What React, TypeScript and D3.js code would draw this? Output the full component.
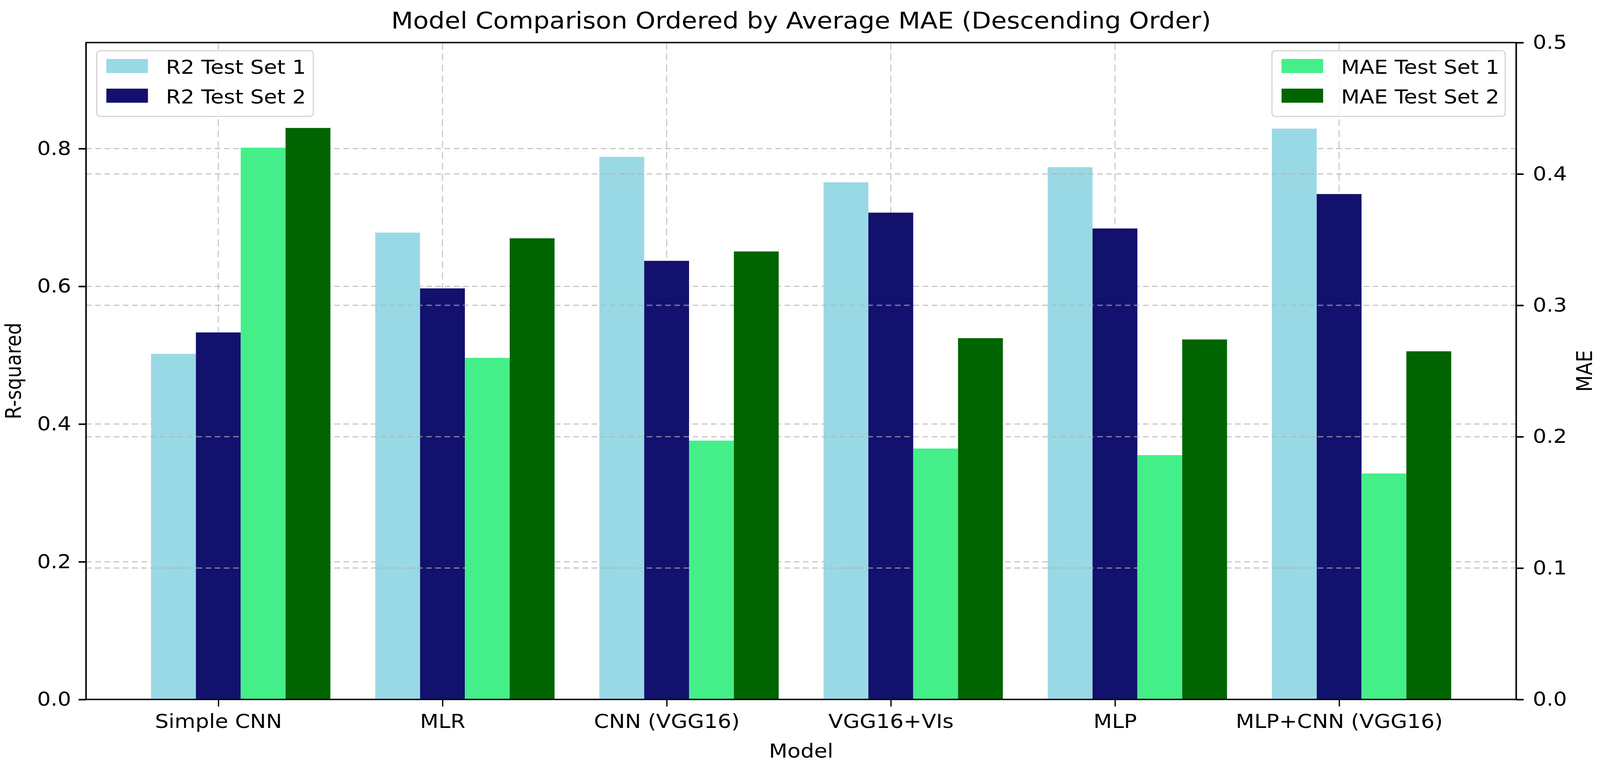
import React from 'react';
import * as d3 from 'd3';

const models = ['Simple CNN', 'MLR', 'CNN (VGG16)', 'VGG16+VIs', 'MLP', 'MLP+CNN (VGG16)'];
const r2Set1 = [0.502, 0.678, 0.788, 0.751, 0.773, 0.829];
const r2Set2 = [0.533, 0.597, 0.637, 0.707, 0.684, 0.734];
const maeSet1 = [0.42, 0.26, 0.197, 0.191, 0.186, 0.172];
const maeSet2 = [0.435, 0.351, 0.341, 0.275, 0.274, 0.265];
const r2Ticks = [0, 0.2, 0.4, 0.6, 0.8];
const maeTicks = [0, 0.1, 0.2, 0.3, 0.4, 0.5];

const r2Series = [
  { label: 'R2 Test Set 1', values: r2Set1, color: '#99d9e5', offset: -0.2 },
  { label: 'R2 Test Set 2', values: r2Set2, color: '#12116e', offset: 0 },
];
const maeSeries = [
  { label: 'MAE Test Set 1', values: maeSet1, color: '#44ef8a', offset: 0.2 },
  { label: 'MAE Test Set 2', values: maeSet2, color: '#006400', offset: 0.4 },
];

// the picture is stretched sideways, so draw in a narrower box and let the svg stretch it
const W = 4277;
const H = 1964;
const SX = 1.17;
const VW = W / SX;
const FONT = 'DejaVu Sans, sans-serif';
const BAR_W = 0.2;

const left = 196.6;
const right = 3464.1;
const top = 109;
const bottom = 1791;

function drawChart(svgEl: SVGSVGElement) {
  const svg = d3.select(svgEl);
  svg.selectAll('*').remove();

  const x = d3.scaleLinear([-0.59, 5.79], [left, right]);
  const yL = d3.scaleLinear([0, 0.954], [bottom, top]);
  const yR = d3.scaleLinear([0, 0.5], [bottom, top]);

  const grid = (g: d3.Selection<SVGGElement, unknown, null, undefined>) =>
    g.attr('stroke', '#b0b0b0').attr('stroke-opacity', 0.7).attr('fill', 'none');

  // left axis grid + vertical grid, under the R2 bars
  const g1 = svg.append('g').call(grid);
  g1.selectAll('.h')
    .data(r2Ticks)
    .enter()
    .append('line')
    .attr('x1', left)
    .attr('x2', right)
    .attr('y1', (d) => yL(d))
    .attr('y2', (d) => yL(d))
    .attr('stroke-width', 3)
    .attr('stroke-dasharray', '13,8');
  g1.selectAll('.v')
    .data(d3.range(models.length))
    .enter()
    .append('line')
    .attr('x1', (d) => x(d))
    .attr('x2', (d) => x(d))
    .attr('y1', top)
    .attr('y2', bottom)
    .attr('stroke-width', 2.5)
    .attr('stroke-dasharray', '18,10');

  const drawBars = (series: typeof r2Series, y: d3.ScaleLinear<number, number>) => {
    series.forEach((s) => {
      svg
        .append('g')
        .selectAll('rect')
        .data(s.values)
        .enter()
        .append('rect')
        .attr('x', (_, i) => x(i + s.offset - BAR_W / 2))
        .attr('width', x(BAR_W) - x(0))
        .attr('y', (d) => y(d))
        .attr('height', (d) => bottom - y(d))
        .attr('fill', s.color);
    });
  };

  drawBars(r2Series, yL);

  // twin axis grid sits above the first bars
  const g2 = svg.append('g').call(grid);
  g2.selectAll('line')
    .data(maeTicks)
    .enter()
    .append('line')
    .attr('x1', left)
    .attr('x2', right)
    .attr('y1', (d) => yR(d))
    .attr('y2', (d) => yR(d))
    .attr('stroke-width', 3)
    .attr('stroke-dasharray', '13,8');

  drawBars(maeSeries, yR);

  // spines
  svg
    .append('rect')
    .attr('x', left)
    .attr('y', top)
    .attr('width', right - left)
    .attr('height', bottom - top)
    .attr('fill', 'none')
    .attr('stroke', '#000')
    .attr('stroke-width', 3.5);

  const styleAxis = (g: d3.Selection<SVGGElement, unknown, null, undefined>, tickW: number) => {
    g.select('.domain').remove();
    g.selectAll('.tick line').attr('stroke', '#000').attr('stroke-width', tickW);
    g.selectAll('.tick text').attr('fill', '#000').attr('font-size', 49).attr('font-family', FONT);
  };

  svg
    .append('g')
    .attr('transform', `translate(${left},0)`)
    .call(d3.axisLeft(yL).tickValues(r2Ticks).tickFormat(d3.format('.1f')).tickSize(17).tickPadding(17))
    .call((g) => styleAxis(g, 4));

  svg
    .append('g')
    .attr('transform', `translate(${right},0)`)
    .call(d3.axisRight(yR).tickValues(maeTicks).tickFormat(d3.format('.1f')).tickSize(17).tickPadding(21))
    .call((g) => styleAxis(g, 4));

  svg
    .append('g')
    .attr('transform', `translate(0,${bottom})`)
    .call(
      d3
        .axisBottom(x)
        .tickValues(d3.range(models.length))
        .tickFormat((d) => models[d as number])
        .tickSize(18)
        .tickPadding(20),
    )
    .call((g) => styleAxis(g, 3));

  // titles
  const text = (t: string, tx: number, ty: number, size: number, rotate = 0) =>
    svg
      .append('text')
      .attr('transform', `translate(${tx},${ty}) rotate(${rotate})`)
      .attr('text-anchor', 'middle')
      .attr('font-family', FONT)
      .attr('font-size', size)
      .attr('fill', '#000')
      .text(t);

  text('Model Comparison Ordered by Average MAE (Descending Order)', (left + right) / 2, 73, 58);
  text('Model', (left + right) / 2, 1940, 49);
  text('R-squared', 47, (top + bottom) / 2, 49, -90);
  text('MAE', 3637, (top + bottom) / 2, 49, -90);

  // legends
  const legend = (series: typeof r2Series, bx: number, bw: number) => {
    const g = svg.append('g');
    g.append('rect')
      .attr('x', bx)
      .attr('y', 130)
      .attr('width', bw)
      .attr('height', 168)
      .attr('rx', 8)
      .attr('fill', '#fff')
      .attr('fill-opacity', 0.8)
      .attr('stroke', '#d0d0d0')
      .attr('stroke-width', 2.5);
    series.forEach((s, i) => {
      g.append('rect')
        .attr('x', bx + 22)
        .attr('y', 151 + i * 76)
        .attr('width', 95)
        .attr('height', 36)
        .attr('fill', s.color);
      g.append('text')
        .attr('x', bx + 158)
        .attr('y', 189 + i * 76)
        .attr('font-family', FONT)
        .attr('font-size', 49)
        .attr('fill', '#000')
        .text(s.label);
    });
  };

  legend(r2Series, 221, 495);
  legend(maeSeries, 2906, 533);
}

export default function App() {
  const ref = React.useRef<SVGSVGElement>(null);

  React.useEffect(() => {
    document.body.style.margin = '0';
    document.body.style.overflow = 'hidden';
    if (ref.current) drawChart(ref.current);
  }, []);

  // fill the viewport whatever its css size is; the viewBox keeps the 4277x1964 layout
  return (
    <svg
      ref={ref}
      viewBox={`0 0 ${VW} ${H}`}
      preserveAspectRatio="none"
      style={{ position: 'absolute', left: 0, top: 0, width: '100vw', height: '100vh', display: 'block', background: '#fff' }}
    />
  );
}
